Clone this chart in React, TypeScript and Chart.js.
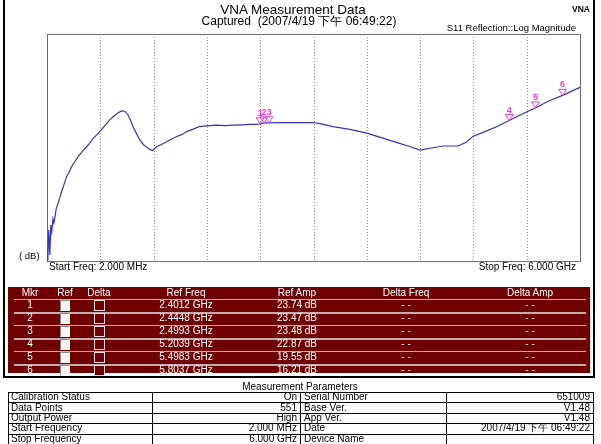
import React, { useEffect, useRef } from "react";
import { Chart, registerables } from "chart.js";

Chart.register(...registerables);

// ---- data ----
const traceFreqGHz = [0.002, 0.011, 0.022, 0.034, 0.045, 0.056, 0.068, 0.079, 0.09, 0.107, 0.127, 0.145, 0.165, 0.19, 0.222, 0.25, 0.278, 0.31, 0.352, 0.4, 0.447, 0.48, 0.521, 0.565, 0.611, 0.66, 0.709, 0.76, 0.803, 0.835, 0.859, 0.885, 0.915, 0.94, 0.971, 1.01, 1.047, 1.085, 1.122, 1.16, 1.19, 1.235, 1.29, 1.348, 1.4, 1.46, 1.52, 1.573, 1.64, 1.714, 1.8, 1.91, 2.0, 2.094, 2.19, 2.285, 2.35, 2.4012, 2.4448, 2.4993, 2.6, 2.8, 2.998, 3.1, 3.22, 3.41, 3.6, 3.79, 3.97, 4.09, 4.2, 4.31, 4.46, 4.63, 4.72, 4.8, 4.95, 5.06, 5.2039, 5.36, 5.4983, 5.63, 5.8037, 6.0];
const traceLossDB = [60, 59.7, 51.8, 58.4, 50.5, 52.3, 48.9, 50.0, 48.6, 46.0, 44.7, 43.4, 41.7, 40.0, 37.7, 36.6, 35.1, 33.9, 32.4, 31.0, 29.8, 28.9, 27.6, 26.6, 25.4, 24.0, 22.7, 21.6, 20.8, 20.4, 20.3, 20.6, 21.4, 22.7, 24.5, 26.4, 28.0, 29.2, 29.9, 30.5, 30.8, 29.8, 29.2, 28.5, 27.8, 27.1, 26.6, 25.8, 25.2, 24.5, 24.3, 24.1, 24.2, 24.1, 24.0, 23.9, 23.9, 23.74, 23.47, 23.48, 23.4, 23.4, 23.4, 23.8, 24.5, 25.2, 26.2, 27.6, 28.9, 29.8, 30.7, 30.2, 29.6, 29.6, 28.6, 27.0, 25.6, 24.5, 22.87, 21.0, 19.55, 17.9, 16.21, 14.1];

const markerNumbers = [1, 2, 3, 4, 5, 6];
const markerFreqGHz = [2.4012, 2.4448, 2.4993, 5.2039, 5.4983, 5.8037];
const markerLossDB = [23.74, 23.47, 23.48, 22.87, 19.55, 16.21];
const markerFreqLabels = ["2.4012 GHz", "2.4448 GHz", "2.4993 GHz", "5.2039 GHz", "5.4983 GHz", "5.8037 GHz"];
const markerAmpLabels = ["23.74 dB", "23.47 dB", "23.48 dB", "22.87 dB", "19.55 dB", "16.21 dB"];

const startFreqGHz = 0.002;
const stopFreqGHz = 6;
const yTopDB = 0;
const yBottomDB = 60;
const gridDivisions = 10;

const markerHeaders = ["Mkr", "Ref", "Delta", "Ref Freq", "Ref Amp", "Delta Freq", "Delta Amp"];

const paramLeft = ["Calibration Status", "Data Points", "Output Power", "Start Frequency", "Stop Frequency"];
const paramLeftValues = ["On", "551", "High", "2.000 MHz", "6.000 GHz"];
const paramRight = ["Serial Number", "Base Ver.", "App Ver.", "Date", "Device Name"];
const paramRightValues = ["651009", "V1.48", "V1.48", "2007/4/19 下午 06:49:22", ""];

const FONT = "Arial, 'Liberation Sans', sans-serif";
const MAGENTA = "#f03cd2";

type TxtProps = { x: number; y: number; size: number; align?: "left" | "center" | "right"; color?: string; bold?: boolean; children: React.ReactNode };
function Txt({ x, y, size, align = "left", color = "#000", bold = false, children }: TxtProps) {
  const top = y - 0.8465 * size;
  const style: React.CSSProperties = {
    position: "absolute",
    top,
    fontFamily: FONT,
    fontSize: size,
    lineHeight: `${size}px`,
    color,
    fontWeight: bold ? "bold" : "normal",
    whiteSpace: "nowrap",
  };
  if (align === "left") style.left = x;
  else if (align === "right") style.right = 601 - x;
  else {
    style.left = x;
    style.transform = "translateX(-50%)";
  }
  return <div style={style}>{children}</div>;
}

const framePlugin = {
  id: "vnaFrame",
  beforeDatasetsDraw(chart: any) {
    const { ctx, chartArea } = chart;
    const xs = chart.scales.x;
    ctx.save();
    ctx.strokeStyle = "#8a8a8a";
    ctx.lineWidth = 1;
    ctx.setLineDash([1, 2]);
    for (let k = 1; k < gridDivisions; k++) {
      const f = startFreqGHz + ((stopFreqGHz - startFreqGHz) * k) / gridDivisions;
      const px = Math.round(xs.getPixelForValue(f)) + 0.5;
      ctx.beginPath();
      ctx.moveTo(px, chartArea.top);
      ctx.lineTo(px, chartArea.bottom);
      ctx.stroke();
    }
    ctx.setLineDash([]);
    ctx.strokeStyle = "#6a6a6a";
    ctx.strokeRect(Math.round(chartArea.left) + 0.5, Math.round(chartArea.top) + 0.5, Math.round(chartArea.right - chartArea.left), Math.round(chartArea.bottom - chartArea.top));
    ctx.restore();
  },
};

const markerPlugin = {
  id: "vnaMarkers",
  afterDatasetsDraw(chart: any) {
    const { ctx } = chart;
    const xs = chart.scales.x;
    const ys = chart.scales.y;
    ctx.save();
    ctx.strokeStyle = MAGENTA;
    ctx.fillStyle = MAGENTA;
    ctx.lineWidth = 1;
    ctx.font = `bold 9px ${FONT}`;
    ctx.textAlign = "center";
    ctx.textBaseline = "alphabetic";
    for (let i = 0; i < markerNumbers.length; i++) {
      const px = xs.getPixelForValue(markerFreqGHz[i]);
      const py = ys.getPixelForValue(markerLossDB[i]);
      ctx.beginPath();
      ctx.moveTo(px - 4, py - 6);
      ctx.lineTo(px + 4, py - 6);
      ctx.lineTo(px, py);
      ctx.closePath();
      ctx.stroke();
      ctx.fillText(String(markerNumbers[i]), px, py - 8);
    }
    ctx.restore();
  },
};

function VnaChart() {
  const ref = useRef<HTMLCanvasElement | null>(null);
  useEffect(() => {
    if (!ref.current) return;
    const chart = new Chart(ref.current, {
      type: "line",
      data: {
        datasets: [
          {
            data: traceFreqGHz.map((f, i) => ({ x: f, y: traceLossDB[i] })),
            borderColor: "#3434c4",
            borderWidth: 1.2,
            pointRadius: 0,
            tension: 0,
            fill: false,
            clip: 2,
          } as any,
        ],
      },
      options: {
        animation: false,
        responsive: false,
        maintainAspectRatio: false,
        events: [],
        layout: { padding: { left: 47, right: 21, top: 34, bottom: 19 } },
        scales: {
          x: { type: "linear", min: startFreqGHz, max: stopFreqGHz, display: false },
          y: { type: "linear", min: yTopDB, max: yBottomDB, reverse: true, display: false },
        },
        plugins: { legend: { display: false }, tooltip: { enabled: false }, title: { display: false } },
      },
      plugins: [framePlugin, markerPlugin],
    });
    return () => chart.destroy();
  }, []);
  return <canvas ref={ref} width={601} height={280} style={{ position: "absolute", left: 0, top: 0, width: 601, height: 280 }} />;
}

const mkColX = [30, 65, 99, 186, 297, 406, 530];
const mkHeaderY = 293;
const mkRowY = [305, 318, 331, 344, 357, 370];

function MarkerTable() {
  const items: React.ReactNode[] = [];
  markerHeaders.forEach((h, c) => {
    items.push(
      <Txt key={"h" + c} x={mkColX[c]} y={mkHeaderY + 3.5} size={10} align="center" color="#fff">
        {h}
      </Txt>
    );
  });
  // separators
  const seps = [299, 311.5, 324.5, 337.5, 350.5, 363.5];
  seps.forEach((sy, i) => {
    items.push(
      <div key={"s" + i} style={{ position: "absolute", left: 14, width: 572, top: Math.round(sy), height: i % 2 === 1 ? 2 : 1, background: "#c7aeae" }} />
    );
  });
  markerNumbers.forEach((n, r) => {
    const cy = mkRowY[r];
    items.push(
      <Txt key={"n" + r} x={mkColX[0]} y={cy + 3.5} size={10} align="center" color="#fff">{String(n)}</Txt>,
      <div key={"rb" + r} style={{ position: "absolute", left: 60, top: cy - 5, width: 10, height: 11, boxSizing: "border-box", background: "#f4f4f4", borderTop: "1px solid #8a8a8a", borderLeft: "1px solid #8a8a8a", borderRight: "1px solid #fff", borderBottom: "1px solid #fff" }} />,
      <div key={"db" + r} style={{ position: "absolute", left: 94, top: cy - 5, width: 11, height: 11, boxSizing: "border-box", background: "#6e0000", border: "1px solid #e8e0e0" }} />,
      <Txt key={"f" + r} x={mkColX[3]} y={cy + 3.5} size={10} align="center" color="#fff">{markerFreqLabels[r]}</Txt>,
      <Txt key={"a" + r} x={mkColX[4]} y={cy + 3.5} size={10} align="center" color="#fff">{markerAmpLabels[r]}</Txt>,
      <Txt key={"df" + r} x={mkColX[5]} y={cy + 3.5} size={10} align="center" color="#e8d8d8">- -</Txt>,
      <Txt key={"da" + r} x={mkColX[6]} y={cy + 3.5} size={10} align="center" color="#e8d8d8">- -</Txt>
    );
  });
  return (
    <>
      <div style={{ position: "absolute", left: 8, top: 287, width: 582, height: 86, background: "#6e0000", borderRight: "1px solid #ddd" }} />
      {items}
    </>
  );
}

const pColX = [8, 152, 300, 446, 593];
const pTop = 392;
const pRowH = 10.4;

function ParamTable() {
  const items: React.ReactNode[] = [];
  const nRows = paramLeft.length + 1;
  for (let r = 0; r <= nRows; r++) {
    const y = Math.round(pTop + r * pRowH);
    items.push(<div key={"hl" + r} style={{ position: "absolute", left: pColX[0], width: pColX[4] - pColX[0] + 1, top: y, height: 1, background: "#000" }} />);
  }
  pColX.forEach((x, c) => {
    items.push(<div key={"vl" + c} style={{ position: "absolute", left: x, width: 1, top: pTop, height: 444 - pTop, background: "#000" }} />);
  });
  paramLeft.forEach((label, r) => {
    const base = pTop + r * pRowH + 8.6;
    items.push(
      <Txt key={"a" + r} x={pColX[0] + 3} y={base} size={10}>{label}</Txt>,
      <Txt key={"b" + r} x={pColX[2] - 3} y={base} size={10} align="right">{paramLeftValues[r]}</Txt>,
      <Txt key={"c" + r} x={pColX[2] + 4} y={base} size={10}>{paramRight[r]}</Txt>,
      <Txt key={"d" + r} x={pColX[4] - 3} y={base} size={10} align="right">{paramRightValues[r]}</Txt>
    );
  });
  return <>{items}</>;
}

export default function App() {
  return (
    <div style={{ position: "fixed", left: 0, top: 0, width: 601, height: 444, background: "#fff", overflow: "hidden" }}>
      <VnaChart />
      <Txt x={293} y={14} size={13.5} align="center">VNA Measurement Data</Txt>
      <Txt x={299} y={25.5} size={12} align="center">Captured&nbsp;&nbsp;(2007/4/19 下午 06:49:22)</Txt>
      <Txt x={590} y={12} size={8.5} align="right" bold>VNA</Txt>
      <Txt x={576} y={31.5} size={9.5} align="right">S11 Reflection::Log Magnitude</Txt>
      <Txt x={19} y={259.5} size={9.5}>( dB)</Txt>
      <Txt x={49} y={270.5} size={10}>Start Freq: 2.000 MHz</Txt>
      <Txt x={576} y={270.5} size={10} align="right">Stop Freq: 6.000 GHz</Txt>
      <div style={{ position: "absolute", left: 3, top: -3, width: 592, height: 381, boxSizing: "border-box", border: "2px solid #000" }} />
      <MarkerTable />
      <Txt x={300} y={390.5} size={10}  align="center">Measurement Parameters</Txt>
      <ParamTable />
    </div>
  );
}
